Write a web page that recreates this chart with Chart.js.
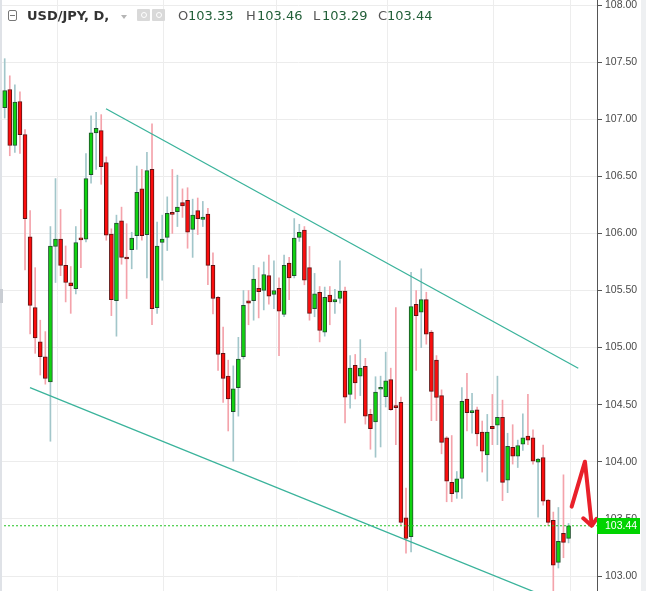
<!DOCTYPE html>
<html>
<head>
<meta charset="utf-8">
<script src="https://cdn.jsdelivr.net/npm/chart.js@4.4.1/dist/chart.umd.min.js"></script>
<style>
  html, body { margin: 0; padding: 0; background: #ffffff; overflow: hidden; }
  #wrap { position: relative; width: 646px; height: 591px; }
  #c { position: absolute; left: 0; top: 0; }
  .hd { position: absolute; font-family: "DejaVu Sans", sans-serif; font-size: 13px; line-height: 13px; top: 9px; white-space: nowrap; }
  #sym { left: 27px; font-weight: bold; color: #333333; }
  .lbl { color: #555555; }
  .val { color: #215f38; }
  #minbox { position: absolute; left: 8px; top: 10px; width: 7px; height: 9px; border: 1px solid #777; border-radius: 2px; }
  #minbox:after { content: ""; position: absolute; left: 1px; right: 1px; top: 4px; height: 1px; background: #777; }
  #caret { position: absolute; left: 121px; top: 15px; width: 0; height: 0; border-left: 3.5px solid transparent; border-right: 3.5px solid transparent; border-top: 4px solid #b5b5b5; }
  .ibox { position: absolute; top: 9px; width: 13px; height: 12px; background: #d9d9d9; border-radius: 1px; }
  .ibox:after { content: ""; position: absolute; left: 3.5px; top: 3px; width: 4px; height: 4px; border: 1px solid #fff; border-radius: 50%; }
  #leftedge { position: absolute; left: 0; top: 0; width: 2px; height: 591px; background: #dfe2e7; }
  #lefthandle { position: absolute; left: 0; top: 289px; width: 3px; height: 14px; background: #c9cdd3; }
  #rightstrip { position: absolute; left: 641px; top: 0; width: 5px; height: 591px; background: #eef0f2; }
</style>
</head>
<body>
<div id="wrap">
  <canvas id="c" width="646" height="591"></canvas>
  <div id="leftedge"></div>
  <div id="lefthandle"></div>
  <div id="rightstrip"></div>
  <div id="minbox"></div>
  <span class="hd" id="sym">USD/JPY, D,</span>
  <div id="caret"></div>
  <div class="ibox" style="left:137px"></div>
  <div class="ibox" style="left:152px"></div>
  <span class="hd lbl" style="left:178px">O</span><span class="hd val" id="vO" style="left:188px"></span>
  <span class="hd lbl" style="left:246px">H</span><span class="hd val" id="vH" style="left:257px"></span>
  <span class="hd lbl" style="left:313px">L</span><span class="hd val" id="vL" style="left:322px"></span>
  <span class="hd lbl" style="left:378px">C</span><span class="hd val" id="vC" style="left:387px"></span>
</div>
<script>
// ---- Daily OHLC values (USD/JPY, D) ----
const opens = [
  107.10, 107.26, 106.77, 107.155, 106.865, 105.97, 105.35, 105.05, 104.92, 104.70,
  105.886, 105.95, 105.72, 105.567, 105.515, 105.956, 105.95, 106.515, 106.88, 106.90,
  106.62, 105.995, 105.41, 106.11, 105.784, 105.857, 105.98, 106.39, 105.99, 106.56,
  105.35, 105.92, 105.965, 106.184, 106.19, 106.27, 106.29, 106.035, 106.20, 106.123,
  106.17, 105.72, 105.44, 104.95, 104.75, 104.44, 104.65, 104.92, 105.41, 105.41,
  105.52, 105.50, 105.63, 105.465, 105.52, 105.29, 105.74, 105.63, 105.965, 106.03,
  105.70, 105.34, 105.485, 105.135, 105.46, 105.40, 105.43, 105.495, 104.59, 104.845,
  104.75, 104.836, 104.415, 104.35, 104.635, 104.57, 104.72, 104.48, 104.52, 103.51,
  103.345, 105.38, 105.31, 105.42, 105.135, 104.89, 104.58, 104.21, 103.82, 103.734,
  103.854, 104.55, 104.43, 104.455, 104.26, 104.06, 104.31, 104.32, 104.39, 103.84,
  104.126, 104.05, 104.155, 104.225, 104.21, 103.997, 104.038, 103.664, 103.488, 103.12,
  103.374, 103.33
];
const highs = [
  107.53, 107.38, 107.30, 107.24, 106.91, 106.20, 105.70, 105.24, 105.14, 106.06,
  106.48, 106.21, 105.89, 105.71, 106.06, 106.21, 106.70, 107.03, 107.06, 107.04,
  106.67, 106.04, 106.16, 106.23, 106.085, 106.01, 106.59, 106.56, 106.71, 106.96,
  106.10, 106.16, 106.32, 106.56, 106.51, 106.39, 106.40, 106.30, 106.31, 106.28,
  106.22, 105.83, 105.45, 105.18, 104.89, 104.84, 105.09, 105.50, 105.50, 105.72,
  105.70, 105.75, 105.81, 105.76, 105.61, 105.81, 105.79, 106.13, 106.08, 106.06,
  105.886, 105.65, 105.535, 105.53, 105.535, 105.51, 105.76, 105.53, 104.93, 104.94,
  105.07, 104.906, 104.46, 104.745, 104.75, 104.96, 104.82, 105.35, 104.567, 103.77,
  105.66, 105.50, 105.69, 105.485, 105.15, 104.93, 104.63, 104.22, 104.23, 103.915,
  104.65, 104.775, 104.60, 104.48, 104.357, 104.415, 104.59, 104.75, 104.54, 104.25,
  104.325, 104.19, 104.42, 104.59, 104.28, 104.03, 104.146, 103.67, 103.56, 103.60,
  103.886, 103.46
];
const lows = [
  107.01, 106.68, 106.71, 106.70, 105.68, 105.12, 104.95, 104.76, 104.68, 104.18,
  105.57, 105.63, 105.40, 105.30, 105.47, 105.70, 105.925, 106.44, 106.56, 106.43,
  105.94, 105.28, 105.10, 105.73, 105.43, 105.69, 105.86, 105.94, 105.61, 105.20,
  105.30, 105.59, 105.85, 106.00, 106.06, 106.14, 105.87, 105.79, 105.99, 106.06,
  105.55, 105.295, 104.80, 104.52, 104.27, 104.005, 104.40, 104.90, 105.20, 105.24,
  105.26, 105.33, 105.38, 105.34, 104.93, 105.27, 105.42, 105.61, 105.93, 105.55,
  105.24, 105.27, 105.05, 105.10, 105.20, 105.30, 105.39, 104.34, 104.47, 104.55,
  104.58, 104.33, 104.11, 104.04, 104.13, 104.48, 104.45, 104.15, 103.45, 103.20,
  103.21, 104.80, 105.00, 105.03, 104.36, 104.36, 104.07, 103.65, 103.65, 103.68,
  103.68, 104.27, 104.25, 104.14, 103.91, 103.83, 104.15, 104.15, 103.66, 103.73,
  103.98, 103.95, 104.10, 104.15, 103.98, 103.515, 103.62, 103.44, 102.87, 103.07,
  103.16, 103.29
];
const closes = [
  107.25, 106.77, 107.15, 106.865, 106.13, 105.37, 105.085, 104.92, 104.73, 105.89,
  105.95, 105.72, 105.57, 105.54, 105.92, 105.944, 106.48, 106.88, 106.92, 106.585,
  105.985, 105.42, 106.09, 105.79, 105.776, 105.96, 106.36, 105.98, 106.55, 105.34,
  105.89, 105.95, 106.175, 106.167, 106.23, 106.24, 106.01, 106.16, 106.13, 106.143,
  105.72, 105.43, 104.94, 104.73, 104.55, 104.64, 104.90, 105.37, 105.39, 105.60,
  105.49, 105.64, 105.45, 105.50, 105.32, 105.72, 105.61, 105.96, 106.01, 105.59,
  105.30, 105.47, 105.15, 105.44, 105.40, 105.42, 105.495, 104.565, 104.82, 104.69,
  104.82, 104.40, 104.29, 104.61, 104.645, 104.71, 104.456, 104.475, 103.47, 103.33,
  105.36, 105.28, 105.42, 105.117, 104.617, 104.564, 104.17, 103.83, 103.72, 103.85,
  104.53, 104.43, 104.445, 104.245, 104.094, 104.26, 104.29, 104.39, 103.82, 104.135,
  104.05, 104.143, 104.21, 104.19, 104.006, 104.023, 103.655, 103.47, 103.094, 103.304,
  103.295, 103.44
];

// ---- Price axis ticks ----
const priceTicks = [103.00, 103.50, 104.00, 104.50, 105.00, 105.50, 106.00, 106.50, 107.00, 107.50, 108.00];
const priceMin = 102.8687;
const priceMax = 108.0438;
// ---- Time axis (bar index) range and month grid positions ----
const barMin = -0.925;
const barMax = 116.6;
const monthGrid = [10.24, 31.2, 53.35, 75.2, 96.2, 111.3];

// ---- Drawn annotations (bar index, price) ----
const upperTrendX = [19.94, 112.91];
const upperTrendY = [107.092, 104.819];
const lowerTrendX = [4.98, 104.19];
const lowerTrendY = [104.649, 102.862];
const arrowX = [111.61, 114.23, 115.55];
const arrowY = [103.607, 104.001, 103.447];
const arrowHeadX = [113.9, 115.55, 116.5];
const arrowHeadY = [103.505, 103.44, 103.50];

// ---- Build chart ----
const idx = opens.map((_, i) => i);
const isUp = idx.map(i => closes[i] >= opens[i]);
const last = opens.length - 1;
const lastClose = closes[last];

document.getElementById('vO').textContent = opens[last].toFixed(2);
document.getElementById('vH').textContent = highs[last].toFixed(2);
document.getElementById('vL').textContent = lows[last].toFixed(2);
document.getElementById('vC').textContent = closes[last].toFixed(2);

const UP_FILL = '#10d210', UP_EDGE = '#1f4f2c', UP_WICK = '#a2c6ca';
const DN_FILL = '#fb0d0d', DN_EDGE = '#5c1414', DN_WICK = '#f4a3ab';

const pts = (xs, ys) => xs.map((x, i) => ({ x: x, y: ys[i] }));

const monthGridPlugin = {
  id: 'monthGrid',
  beforeDatasetsDraw(chart) {
    const { ctx, chartArea, scales } = chart;
    ctx.save();
    ctx.strokeStyle = '#ededed';
    ctx.lineWidth = 1;
    monthGrid.forEach(v => {
      const px = Math.round(scales.x.getPixelForValue(v)) + 0.5;
      ctx.beginPath();
      ctx.moveTo(px, chartArea.top);
      ctx.lineTo(px, chartArea.bottom);
      ctx.stroke();
    });
    ctx.restore();
  }
};

const priceLabelPlugin = {
  id: 'priceLabel',
  afterDraw(chart) {
    const { ctx, chartArea, scales } = chart;
    const y = Math.round(scales.y.getPixelForValue(lastClose));
    ctx.save();
    ctx.fillStyle = '#00d400';
    ctx.fillRect(chartArea.right, y - 8, 43, 16);
    ctx.fillStyle = '#ffffff';
    ctx.font = '10.5px "Liberation Sans", Arial, sans-serif';
    ctx.textBaseline = 'middle';
    ctx.textAlign = 'left';
    ctx.fillText(lastClose.toFixed(2), chartArea.right + 8, y + 0.5);
    ctx.restore();
  }
};

new Chart(document.getElementById('c'), {
  type: 'bar',
  data: {
    datasets: [
      {
        type: 'line',
        data: pts(upperTrendX, upperTrendY),
        borderColor: '#3ab39b', borderWidth: 1.3, pointRadius: 0, order: 0
      },
      {
        type: 'line',
        data: pts(lowerTrendX, lowerTrendY),
        borderColor: '#3ab39b', borderWidth: 1.3, pointRadius: 0, order: 0
      },
      {
        type: 'line',
        data: pts(arrowX, arrowY),
        borderColor: '#e9202a', borderWidth: 4, pointRadius: 0,
        borderCapStyle: 'round', borderJoinStyle: 'round', order: 0
      },
      {
        type: 'line',
        data: pts(arrowHeadX, arrowHeadY),
        borderColor: '#e9202a', borderWidth: 4, pointRadius: 0,
        borderCapStyle: 'round', borderJoinStyle: 'round', order: 0
      },
      {
        type: 'line',
        data: pts([barMin, barMax], [lastClose, lastClose]),
        borderColor: '#22c322', borderWidth: 1, borderDash: [2, 2], pointRadius: 0, order: 0
      },
      {
        type: 'bar',
        data: idx.map(i => ({ x: i, y: [opens[i], closes[i]] })),
        backgroundColor: idx.map(i => isUp[i] ? UP_FILL : DN_FILL),
        borderColor: idx.map(i => isUp[i] ? UP_EDGE : DN_EDGE),
        borderWidth: 1,
        borderSkipped: false,
        barThickness: 4,
        minBarLength: 2,
        grouped: false,
        order: 1
      },
      {
        type: 'bar',
        data: idx.map(i => ({ x: i, y: [lows[i], highs[i]] })),
        backgroundColor: idx.map(i => isUp[i] ? UP_WICK : DN_WICK),
        borderWidth: 0,
        barThickness: 1,
        grouped: false,
        order: 2
      }
    ]
  },
  options: {
    responsive: false,
    animation: false,
    devicePixelRatio: 1,
    layout: { padding: 0 },
    plugins: { legend: { display: false }, tooltip: { enabled: false } },
    scales: {
      x: {
        type: 'linear',
        min: barMin,
        max: barMax,
        offset: false,
        display: false
      },
      y: {
        type: 'linear',
        position: 'right',
        min: priceMin,
        max: priceMax,
        afterBuildTicks: s => { s.ticks = priceTicks.map(v => ({ value: v })); },
        afterFit: s => { s.width = 49; s.paddingTop = 0; s.paddingBottom = 0; },
        ticks: {
          callback: v => Number(v).toFixed(2),
          color: '#4a4a4a',
          padding: 3,
          font: { family: '"Liberation Sans", Arial, sans-serif', size: 10.5 }
        },
        grid: { color: '#ececec', tickColor: '#555555', tickLength: 5, lineWidth: 1 },
        border: { display: true, color: '#555555', width: 1 }
      }
    }
  },
  plugins: [monthGridPlugin, priceLabelPlugin]
});
</script>
</body>
</html>
